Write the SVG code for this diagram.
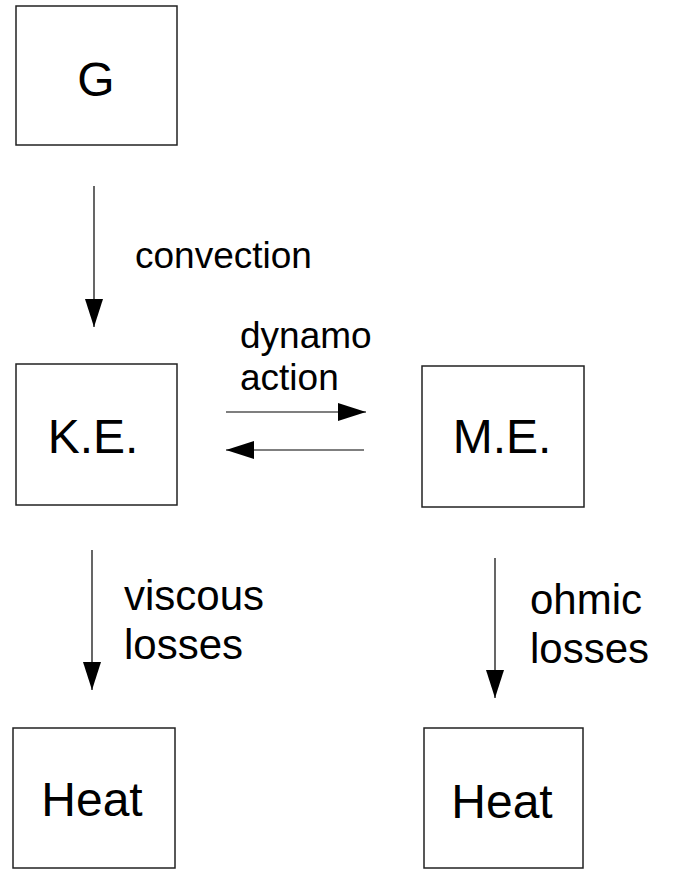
<svg xmlns="http://www.w3.org/2000/svg" width="676" height="871" viewBox="0 0 676 871">
<defs>
<style>
.box{fill:#fff;stroke:#222;stroke-width:1.5}
.lbl{font-family:"Liberation Sans",Arial,sans-serif;fill:#000}
.big{font-size:48px;text-anchor:middle}
.mid{font-size:37px}
.lg{font-size:42px}
.edge{stroke:#000;stroke-width:1.2;fill:none;marker-end:url(#ah)}
</style>
<marker id="ah" viewBox="0 0 28 18" refX="28" refY="9" markerWidth="28" markerHeight="18" markerUnits="userSpaceOnUse" orient="auto">
<path d="M0,0 L28,9 L0,18 Z" fill="#000"/>
</marker>
</defs>
<rect width="676" height="871" fill="#fff"/>
<g id="G"><rect class="box" x="16" y="6" width="161" height="139"/><text class="lbl big" x="96" y="96">G</text></g>
<g id="KE"><rect class="box" x="16" y="364" width="161" height="141"/><text class="lbl big" x="93" y="453">K.E.</text></g>
<g id="ME"><rect class="box" x="422" y="366" width="162" height="141"/><text class="lbl big" x="502" y="453">M.E.</text></g>
<g id="Heat1"><rect class="box" x="13" y="728" width="162" height="140"/><text class="lbl big" x="92" y="816">Heat</text></g>
<g id="Heat2"><rect class="box" x="424" y="728" width="159" height="140"/><text class="lbl big" x="502" y="818">Heat</text></g>
<g id="connectors">
<line class="edge" x1="94" y1="186" x2="94" y2="327"/>
<line class="edge" x1="226" y1="412" x2="366" y2="412"/>
<line class="edge" x1="364" y1="450" x2="226" y2="450"/>
<line class="edge" x1="92" y1="550" x2="92" y2="690"/>
<line class="edge" x1="495" y1="558" x2="495" y2="698"/>
<text class="lbl mid" x="135" y="268">convection</text>
<text class="lbl mid" x="240" y="348">dynamo</text>
<text class="lbl mid" x="240" y="390">action</text>
<text class="lbl lg" x="124" y="610">viscous</text>
<text class="lbl lg" x="124" y="659">losses</text>
<text class="lbl lg" x="530" y="614">ohmic</text>
<text class="lbl lg" x="530" y="663">losses</text>
</g>
</svg>
